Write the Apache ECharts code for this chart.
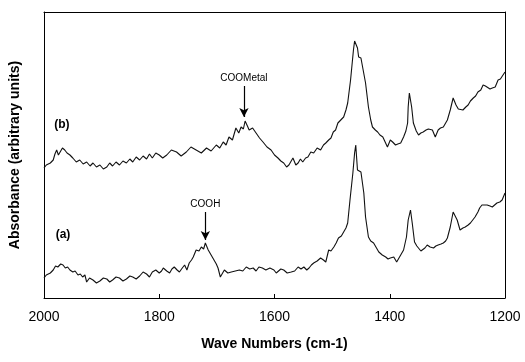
<!DOCTYPE html>
<html>
<head>
<meta charset="utf-8">
<script src="https://cdn.jsdelivr.net/npm/echarts@6/dist/echarts.min.js"></script>
<style>
  html, body { margin: 0; padding: 0; background: #fff; }
  #chart { width: 525px; height: 362px; }
</style>
</head>
<body>
<div id="chart"></div>
<script>
// wave numbers (cm-1) and absorbance (arbitrary units)
const waveB = [2000, 1996, 1993, 1989, 1984, 1981, 1978, 1975, 1972, 1968, 1964, 1960, 1955, 1952, 1950, 1944, 1938, 1932, 1926, 1920, 1915, 1909, 1903, 1897, 1891, 1886, 1881, 1875, 1869, 1863, 1857, 1851, 1846, 1840, 1834, 1828, 1822, 1817, 1812, 1806, 1800, 1794, 1787, 1779, 1770, 1762, 1753, 1745, 1736, 1727, 1718, 1710, 1701, 1695, 1689, 1684, 1679, 1673, 1667, 1662, 1658, 1654, 1651, 1647, 1644, 1638, 1632, 1626, 1620, 1613, 1606, 1600, 1594, 1589, 1584, 1579, 1575, 1571, 1568, 1563, 1559, 1555, 1551, 1546, 1542, 1537, 1532, 1526, 1520, 1515, 1511, 1506, 1502, 1498, 1494, 1490, 1485, 1480, 1476, 1473, 1468, 1463, 1461, 1456, 1454, 1450, 1447, 1442, 1437, 1433, 1430, 1425, 1421, 1417, 1412, 1408, 1404, 1399, 1395, 1390, 1386, 1381, 1376, 1372, 1369, 1368, 1366, 1364, 1362, 1359, 1354, 1350, 1346, 1342, 1337, 1333, 1326, 1321, 1316, 1312, 1307, 1300, 1295, 1290, 1285, 1281, 1278, 1273, 1268, 1264, 1260, 1255, 1251, 1247, 1242, 1238, 1234, 1231, 1226, 1222, 1217, 1212, 1208, 1205, 1200];
const absB = [130, 133, 131, 135, 138, 144, 148, 143, 146, 150, 148, 145, 143, 141, 140, 136, 138, 134, 136, 132, 135, 131, 133, 129, 131, 135, 132, 136, 133, 137, 135, 139, 136, 141, 138, 142, 139, 144, 140, 145, 143, 140, 143, 148, 146, 142, 146, 151, 148, 145, 150, 147, 153, 150, 156, 153, 161, 158, 170, 165, 171, 169, 177, 172, 168, 170, 165, 160, 156, 151, 148, 143, 140, 137, 135, 131, 133, 137, 140, 133, 135, 139, 136, 140, 141, 146, 145, 150, 148, 153, 155, 158, 160, 166, 168, 175, 178, 181, 188, 195, 218, 248, 257, 250, 241, 240, 238, 215, 191, 178, 171, 168, 166, 163, 161, 156, 151, 158, 156, 153, 154, 155, 161, 167, 175, 191, 205, 204, 191, 175, 167, 163, 165, 166, 168, 169, 168, 161, 168, 170, 171, 178, 188, 200, 193, 189, 188, 188, 191, 193, 197, 200, 202, 206, 208, 213, 212, 210, 209, 210, 211, 218, 219, 219, 226];

const waveA = [2000, 1996, 1993, 1989, 1984, 1980, 1976, 1971, 1967, 1963, 1959, 1955, 1950, 1946, 1941, 1937, 1933, 1929, 1926, 1921, 1915, 1909, 1903, 1897, 1891, 1886, 1881, 1875, 1869, 1863, 1857, 1851, 1846, 1840, 1834, 1828, 1822, 1817, 1812, 1806, 1800, 1796, 1793, 1787, 1782, 1778, 1774, 1769, 1765, 1760, 1756, 1752, 1748, 1744, 1741, 1736, 1731, 1727, 1723, 1720, 1715, 1712, 1710, 1707, 1705, 1701, 1698, 1694, 1690, 1687, 1681, 1675, 1668, 1661, 1655, 1649, 1643, 1637, 1632, 1627, 1621, 1615, 1608, 1601, 1597, 1594, 1589, 1584, 1578, 1571, 1565, 1559, 1554, 1549, 1544, 1540, 1536, 1532, 1526, 1520, 1515, 1511, 1506, 1502, 1497, 1493, 1489, 1484, 1480, 1476, 1473, 1469, 1464, 1461, 1459, 1456, 1453, 1450, 1445, 1442, 1437, 1433, 1428, 1423, 1419, 1413, 1407, 1403, 1399, 1396, 1393, 1388, 1384, 1381, 1376, 1371, 1368, 1364, 1361, 1357, 1353, 1350, 1346, 1343, 1339, 1335, 1330, 1324, 1320, 1316, 1311, 1307, 1303, 1300, 1295, 1290, 1283, 1278, 1273, 1269, 1264, 1260, 1256, 1252, 1247, 1244, 1240, 1235, 1231, 1226, 1222, 1218, 1214, 1209, 1205, 1200];
const absA = [20, 23, 21, 25, 28, 32, 31, 34, 33, 30, 31, 28, 26, 27, 23, 24, 21, 23, 16, 20, 18, 15, 17, 20, 19, 16, 18, 21, 20, 17, 19, 22, 21, 19, 22, 26, 24, 21, 26, 28, 25, 27, 30, 27, 25, 29, 31, 28, 26, 30, 33, 28, 35, 38, 41, 48, 47, 51, 49, 55, 48, 46, 43, 40, 38, 34, 30, 21, 25, 28, 25, 26, 27, 28, 27, 31, 29, 30, 27, 31, 30, 28, 30, 28, 25, 26, 29, 28, 25, 26, 27, 31, 29, 31, 28, 30, 33, 35, 37, 40, 38, 36, 48, 47, 51, 55, 60, 62, 66, 70, 75, 98, 125, 145, 153, 128, 126, 126, 105, 81, 61, 57, 55, 50, 46, 43, 41, 39, 40, 42, 41, 36, 40, 43, 48, 61, 78, 88, 75, 56, 52, 50, 47, 46, 50, 53, 51, 50, 52, 53, 54, 55, 57, 60, 71, 86, 78, 68, 70, 71, 73, 75, 78, 81, 86, 90, 93, 93, 93, 92, 91, 93, 95, 96, 98, 105];

const xTicks = [2000, 1800, 1600, 1400, 1200];
const curveLabels = ['(a)', '(b)'];
const peakNames = ['COOH', 'COOMetal'];

const chart = echarts.init(document.getElementById('chart'));

const zip = (xs, ys) => xs.map((x, i) => [x, ys[i]]);
const FONT = "'Liberation Sans', Arial, sans-serif";

const arrowLine = (wn, yFrom, yTo, text) => ({
  silent: true,
  symbol: ['none', 'arrow'],
  symbolSize: [7, 9],
  lineStyle: { color: '#000', width: 1.2, type: 'solid' },
  label: {
    show: true,
    position: 'start',
    formatter: text,
    fontFamily: FONT,
    fontSize: 10,
    color: '#000',
    distance: 3
  },
  data: [[{ coord: [wn, yFrom] }, { coord: [wn, yTo] }]]
});

const curveTag = (wn, y, text) => ({
  silent: true,
  symbol: 'circle',
  symbolSize: 1,
  itemStyle: { color: 'rgba(0,0,0,0)' },
  label: {
    show: true,
    position: 'inside',
    formatter: text,
    fontFamily: FONT,
    fontWeight: 'bold',
    fontSize: 12,
    color: '#000'
  },
  data: [{ coord: [wn, y] }]
});

const frameAxis = {
  axisLine: { show: true, onZero: false, lineStyle: { color: '#000', width: 1 } },
  axisTick: { show: false },
  axisLabel: { show: false },
  splitLine: { show: false }
};

const option = {
  animation: false,
  grid: { left: 42, right: 20, top: 12, bottom: 64 },
  xAxis: [
    {
      type: 'value',
      min: 1200,
      max: 2000,
      interval: 200,
      inverse: true,
      name: 'Wave Numbers (cm-1)',
      nameLocation: 'middle',
      nameGap: 39,
      nameTextStyle: { fontFamily: FONT, fontWeight: 'bold', fontSize: 14, color: '#000' },
      axisLine: { onZero: false, lineStyle: { color: '#000', width: 1 } },
      axisTick: { inside: true, length: 4, lineStyle: { color: '#000' } },
      axisLabel: {
        fontFamily: FONT, fontSize: 14, color: '#000', margin: 12,
        formatter: (v) => String(v)
      },
      splitLine: { show: false }
    },
    Object.assign({ type: 'value', min: 1200, max: 2000, inverse: true, position: 'top' }, frameAxis)
  ],
  yAxis: [
    {
      type: 'value',
      min: 0,
      max: 286,
      name: 'Absorbance (arbitrary units)',
      nameLocation: 'middle',
      nameGap: 22,
      nameTextStyle: { fontFamily: FONT, fontWeight: 'bold', fontSize: 14, color: '#000' },
      axisLine: { show: true, onZero: false, lineStyle: { color: '#000', width: 1 } },
      axisTick: { show: false },
      axisLabel: { show: false },
      splitLine: { show: false }
    },
    Object.assign({ type: 'value', min: 0, max: 286, position: 'right' }, frameAxis)
  ],
  series: [
    {
      type: 'line',
      data: zip(waveA, absA),
      showSymbol: false,
      lineStyle: { color: '#111', width: 1.1 },
      markLine: arrowLine(1720, 86, 58, peakNames[0]),
      markPoint: curveTag(1967, 63, curveLabels[0])
    },
    {
      type: 'line',
      data: zip(waveB, absB),
      showSymbol: false,
      lineStyle: { color: '#111', width: 1.1 },
      markLine: arrowLine(1653, 212, 181, peakNames[1]),
      markPoint: curveTag(1969, 173, curveLabels[1])
    }
  ]
};

chart.setOption(option);
</script>
</body>
</html>
